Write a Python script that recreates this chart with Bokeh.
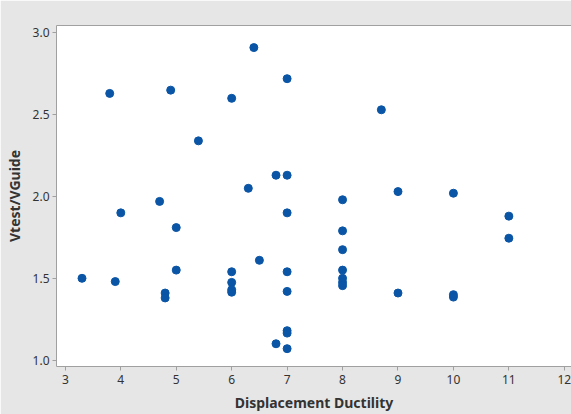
from bokeh.plotting import figure
from bokeh.models import Range1d, LinearAxis, FixedTicker, ColumnDataSource, CustomJSTickFormatter
from bokeh.embed import file_html
from bokeh.resources import INLINE

ductility = [3.8, 4.9, 6.4, 7.0, 6.0, 5.4, 6.8, 7.0, 6.3, 4.7,
             8.7, 9.0, 10.0, 8.0, 4.0, 7.0, 5.0, 6.5, 5.0, 6.0,
             7.0, 3.3, 3.9, 6.0, 4.8, 4.8, 6.0, 6.0, 7.0, 7.0,
             7.0, 6.8, 7.0, 11.0, 11.0, 8.0, 8.0, 8.0, 8.0, 8.0,
             8.0, 9.0, 10.0, 10.0]
vratio = [2.63, 2.65, 2.91, 2.72, 2.60, 2.34, 2.13, 2.13, 2.05, 1.97,
          2.53, 2.03, 2.02, 1.98, 1.90, 1.90, 1.81, 1.61, 1.55, 1.54,
          1.54, 1.50, 1.48, 1.475, 1.41, 1.38, 1.43, 1.415, 1.42, 1.18,
          1.165, 1.10, 1.07, 1.88, 1.745, 1.79, 1.675, 1.55, 1.50, 1.475,
          1.455, 1.41, 1.40, 1.385]
x_ticks = [3, 4, 5, 6, 7, 8, 9, 10, 11, 12]
y_ticks = [1.0, 1.5, 2.0, 2.5, 3.0]

src = ColumnDataSource(dict(x=ductility, y=vratio))

FONT = "Noto Sans"
GRAY = "#a0a0a0"
TXT = "#333333"

p = figure(width=571, height=414, output_backend="svg", toolbar_location=None,
           x_range=Range1d(2.84, 12.13), y_range=Range1d(0.961, 3.045),
           min_border_left=56, min_border_top=25, min_border_bottom=48,
           min_border_right=0)
p.border_fill_color = "#e6e6e6"
p.background_fill_color = "white"
p.outline_line_color = None
p.xgrid.grid_line_color = None
p.ygrid.grid_line_color = None

p.scatter("x", "y", source=src, size=8, fill_color="#0a55a5", line_color="#0a55a5")

for ax in (p.xaxis[0], p.yaxis[0]):
    ax.axis_line_color = GRAY
    ax.major_tick_line_color = GRAY
    ax.minor_tick_line_color = None
    ax.major_tick_out = 4
    ax.major_tick_in = 0
    ax.major_label_text_font = FONT
    ax.major_label_text_font_size = "12px"
    ax.major_label_text_color = TXT
    ax.axis_label_text_font = FONT
    ax.axis_label_text_font_size = "14px"
    ax.axis_label_text_font_style = "bold"
    ax.axis_label_text_color = TXT

p.xaxis.ticker = FixedTicker(ticks=x_ticks)
p.yaxis.ticker = FixedTicker(ticks=y_ticks)
p.yaxis.formatter = CustomJSTickFormatter(code="return tick.toFixed(1);")
p.xaxis.axis_label = "Displacement Ductility"
p.yaxis.axis_label = "Vtest/VGuide"
p.xaxis.major_label_standoff = 4
p.xaxis.axis_label_standoff = 6
p.yaxis.major_label_standoff = 3
p.yaxis.axis_label_standoff = 6

top = LinearAxis(major_tick_line_color=None, minor_tick_line_color=None,
                 major_label_text_font_size="0px", axis_line_color=GRAY,
                 ticker=FixedTicker(ticks=[]))
p.add_layout(top, "above")

open("out.html", "w").write(file_html(p, INLINE))
